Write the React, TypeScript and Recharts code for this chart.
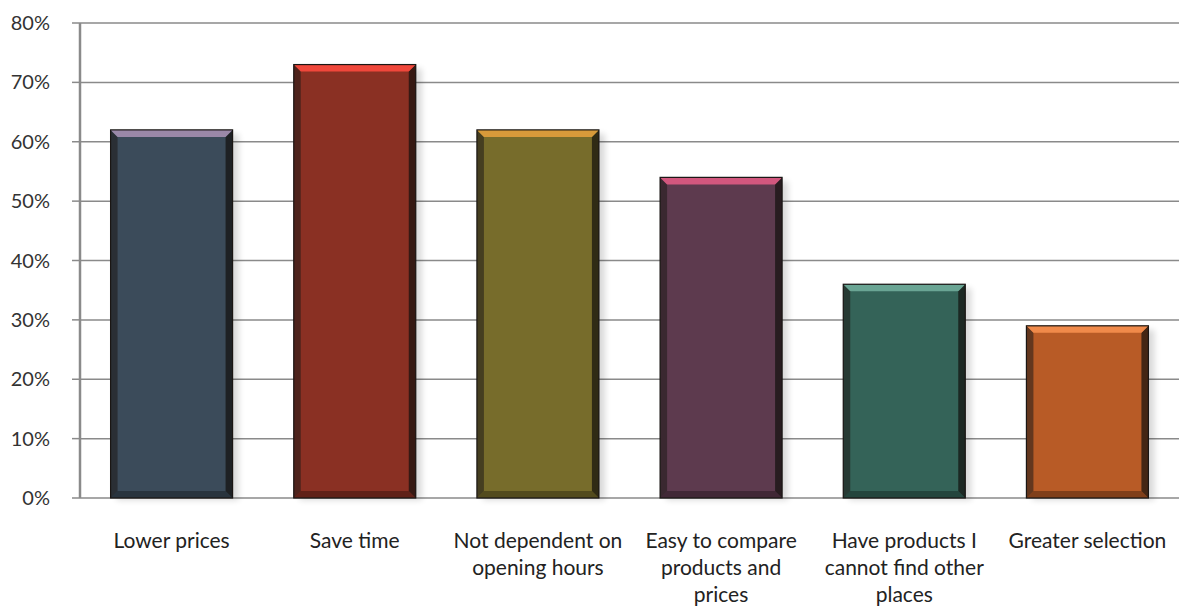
import React from 'react';
import {
  BarChart,
  Bar,
  Cell,
  XAxis,
  YAxis,
  CartesianGrid,
} from 'recharts';

// Reasons for shopping online, share of respondents
const categories = [
  'Lower prices',
  'Save time',
  'Not dependent on\nopening hours',
  'Easy to compare\nproducts and\nprices',
  'Have products I\ncannot find other\nplaces',
  'Greater selection',
];
const shares = [0.62, 0.73, 0.62, 0.54, 0.36, 0.29];
const yTicks = [0, 0.1, 0.2, 0.3, 0.4, 0.5, 0.6, 0.7, 0.8];
const boundaryTicks = [0, 1, 2, 3, 4, 5, 6];

// bar body / top bevel colours
const BAR_COLORS = ['#3b4b5a', '#8a3023', '#776c2b', '#5d3a4e', '#346358', '#b85b26'];
const TOP_COLORS = ['#9a88a8', '#f0473b', '#d89a3a', '#d2577e', '#6aa594', '#f08a4a'];

const FONT = 'Lato, "Open Sans", sans-serif';

const data = categories.map((name, i) => ({ name, value: shares[i], idx: i }));

function BevelBar(props: any) {
  const { x, y, width, height, idx } = props;
  if (!height || height <= 0) return null;
  const base = BAR_COLORS[idx];
  const top = TOP_COLORS[idx];
  const b = 7;
  return (
    <g>
      <rect x={x + 6} y={y + 4} width={width} height={height - 2} fill="#000" opacity={0.15} filter="url(#barShadow)" />
      <rect x={x} y={y} width={width} height={height} fill={base} />
      {/* left edge */}
      <polygon points={`${x},${y} ${x + b},${y + b} ${x + b},${y + height - b} ${x},${y + height}`} fill="#1d1a18" opacity={0.55} />
      {/* right edge */}
      <polygon points={`${x + width},${y} ${x + width - b},${y + b} ${x + width - b},${y + height - b} ${x + width},${y + height}`} fill="#120f0d" opacity={0.7} />
      {/* bottom edge */}
      <polygon points={`${x},${y + height} ${x + b},${y + height - b} ${x + width - b},${y + height - b} ${x + width},${y + height}`} fill="#000" opacity={0.3} />
      {/* top bevel */}
      <polygon points={`${x},${y} ${x + width},${y} ${x + width - b},${y + b} ${x + b},${y + b}`} fill={top} />
      <rect x={x} y={y} width={width} height={height} fill="none" stroke="#1a1614" strokeWidth={1.2} />
    </g>
  );
}

function CategoryTick(props: any) {
  const { x, y, payload } = props;
  const lines = String(payload.value).split('\n');
  return (
    <text x={x} y={y} textAnchor="middle" fill="#222" fontSize={21} fontFamily={FONT}>
      {lines.map((line, i) => (
        <tspan key={i} x={x} dy={i === 0 ? 42 : 27}>
          {line}
        </tspan>
      ))}
    </text>
  );
}

export default function App() {
  return (
    <div style={{ position: 'absolute', left: 0, top: 0, background: '#fff' }}>
      <BarChart
        width={1179}
        height={610}
        data={data}
        margin={{ top: 23, right: 0, left: 0, bottom: 0 }}
        barCategoryGap="16.7%"
      >
        <defs>
          <filter id="barShadow" x="-20%" y="-20%" width="140%" height="140%">
            <feGaussianBlur stdDeviation="3" />
          </filter>
        </defs>
        <CartesianGrid xAxisId="cat" vertical={false} stroke="#8a8a8a" strokeWidth={1.5} />
        <XAxis
          xAxisId="grid"
          type="number"
          domain={[0, 6]}
          ticks={boundaryTicks}
          height={0}
          tickFormatter={() => ''}
          axisLine={{ stroke: '#8a8a8a', strokeWidth: 2.5 }}
          tickLine={{ stroke: '#8a8a8a', strokeWidth: 1.5 }}
          tickSize={6}
        />
        <XAxis
          xAxisId="cat"
          dataKey="name"
          height={112}
          axisLine={false}
          tickLine={false}
          interval={0}
          tick={<CategoryTick />}
        />
        <YAxis
          width={80}
          domain={[0, 0.8]}
          ticks={yTicks}
          tickFormatter={(v: number) => `${Math.round(v * 100)}%`}
          axisLine={{ stroke: '#8a8a8a', strokeWidth: 2.5 }}
          tickLine={{ stroke: '#8a8a8a', strokeWidth: 1.5 }}
          tickSize={8}
          tickMargin={22}
          tick={{ fill: '#333', fontSize: 20, fontFamily: FONT }}
        />
        <Bar
          xAxisId="cat"
          dataKey="value"
          isAnimationActive={false}
          shape={(p: any) => <BevelBar {...p} idx={p.payload.idx} />}
        >
          {data.map((d) => (
            <Cell key={d.idx} fill={BAR_COLORS[d.idx]} />
          ))}
        </Bar>
      </BarChart>
    </div>
  );
}
